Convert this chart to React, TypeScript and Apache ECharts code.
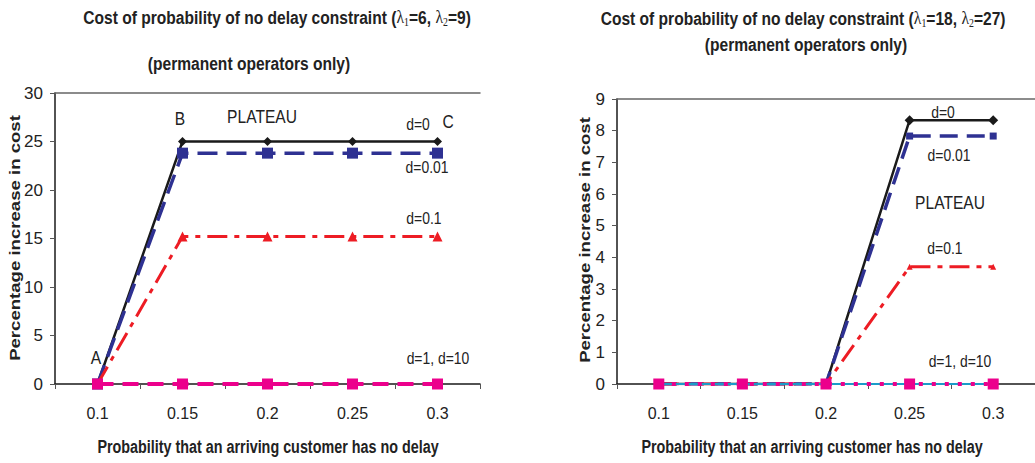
import React, { useEffect, useRef } from "react";
import * as echarts from "echarts";

const categories = ["0.1", "0.15", "0.2", "0.25", "0.3"];

// Left chart (λ1=6, λ2=9)
const leftD0 = [0, 25, 25, 25, 25];
const leftD001 = [0, 23.8, 23.8, 23.8, 23.8];
const leftD01 = [0, 15.2, 15.2, 15.2, 15.2];
const leftD1 = [0, 0, 0, 0, 0];

// Right chart (λ1=18, λ2=27)
const rightD0 = [0, 0, 0, 8.33, 8.33];
const rightD001 = [0, 0, 0, 7.83, 7.83];
const rightD01 = [0, 0, 0, 3.7, 3.7];
const rightD1 = [0, 0, 0, 0, 0];
const rightD10 = [0, 0, 0, 0, 0];

const SANS = "'Liberation Sans', Arial, sans-serif";
const SERIF = "'Liberation Serif', serif";
const NARROW_SCALE = 0.82;

const BLACK = "#1a1a1a";
const BLUE = "#2e3192";
const RED = "#ed1c24";
const MAGENTA = "#ec008c";
const CYAN = "#1b9cc9";

export default function App() {
  const ref = useRef<HTMLDivElement>(null);

  useEffect(() => {
    const chart = echarts.init(ref.current!, null, { renderer: "svg" });

    const xAxisBase = (gridIndex: number) => ({
      type: "category",
      gridIndex,
      data: categories,
      boundaryGap: true,
      axisLine: { show: true, lineStyle: { color: BLACK, width: 1.5 } },
      axisTick: { show: true, length: 5, inside: false, lineStyle: { color: "#555" } },
      axisLabel: { fontFamily: SANS, fontSize: 16, color: "#222", margin: 21 },
    });
    const xAxisTop = (gridIndex: number) => ({
      type: "category",
      gridIndex,
      position: "top",
      data: categories,
      axisLine: { show: true, lineStyle: { color: "#666", width: 1.5 } },
      axisTick: { show: false },
      axisLabel: { show: false },
    });
    const yAxisBase = (gridIndex: number, max: number, interval: number) => ({
      type: "value",
      gridIndex,
      min: 0,
      max,
      interval,
      axisLine: { show: true, lineStyle: { color: BLACK, width: 1.5 } },
      axisTick: { show: true, length: 5, lineStyle: { color: "#555" } },
      splitLine: { show: false },
      axisLabel: { fontFamily: SANS, fontSize: 17, color: "#222", margin: 12 },
    });

    const line = (
      name: string,
      data: number[],
      xi: number,
      yi: number,
      color: string,
      width: number,
      type: any,
      symbol: string,
      symbolSize: number,
      z: number
    ) => ({
      name,
      type: "line",
      xAxisIndex: xi,
      yAxisIndex: yi,
      data,
      symbol,
      symbolSize,
      showSymbol: symbol !== "none",
      z,
      lineStyle: { color, width, type },
      itemStyle: { color, borderWidth: 0 },
    });

    const txt = (x: number, y: number, text: string, size: number) => ({
      type: "text",
      x,
      y,
      scaleX: NARROW_SCALE,
      style: {
        text,
        fill: "#222",
        font: `${size}px ${SANS}`,
        textAlign: "center",
        textVerticalAlign: "middle",
      },
    });

    const titleRich = {
      l: { fontFamily: SERIF, fontSize: 19, fontWeight: "normal", fill: "#222" },
      s: { fontFamily: SERIF, fontSize: 12, fontWeight: "normal", fill: "#222", padding: [9, 0, 0, 0] },
    };

    const titleText = (x: number, y: number, text: string, size = 19) => ({
      type: "text",
      x,
      y,
      scaleX: NARROW_SCALE,
      style: {
        text,
        fill: "#222",
        font: `bold ${size}px ${SANS}`,
        textAlign: "center",
        textVerticalAlign: "middle",
        rich: titleRich,
      },
    });

    const yTitle = (x: number, y: number) => ({
      type: "text",
      x,
      y,
      rotation: Math.PI / 2,
      scaleX: 1.24,
      style: {
        text: "Percentage increase in cost",
        fill: "#222",
        font: `bold 15px ${SANS}`,
        textAlign: "center",
        textVerticalAlign: "middle",
      },
    });

    chart.setOption({
      animation: false,
      backgroundColor: "#ffffff",
      grid: [
        { left: 55, top: 93, width: 425, height: 291 },
        { left: 617, top: 99, width: 423, height: 285 },
      ],
      xAxis: [xAxisBase(0), xAxisBase(1), xAxisTop(0), xAxisTop(1)],
      yAxis: [yAxisBase(0, 30, 5), yAxisBase(1, 9, 1)],
      series: [
        line("d=0", leftD0, 0, 0, BLACK, 2.5, "solid", "diamond", 9, 2),
        line("d=0.01", leftD001, 0, 0, BLUE, 3.5, [20, 9], "rect", 11, 3),
        line("d=0.1", leftD01, 0, 0, RED, 3, [20, 7, 5, 7], "triangle", 10, 4),
        line("d=1, d=10", leftD1, 0, 0, MAGENTA, 4, [16, 9], "rect", 11, 5),
        line("d=0", rightD0, 1, 1, BLACK, 2.5, "solid", "diamond", 10, 2),
        line("d=0.01", rightD001, 1, 1, BLUE, 3.5, [18, 9], "rect", 7, 3),
        line("d=0.1", rightD01, 1, 1, RED, 3, [20, 7, 5, 7], "triangle", 6, 4),
        line("d=10", rightD10, 1, 1, CYAN, 2, "solid", "none", 0, 5),
        line("d=1", rightD1, 1, 1, MAGENTA, 4, [4, 9], "rect", 11, 6),
      ],
      graphic: [
        titleText(277, 17, "Cost of probability of no delay constraint ({l|λ}{s|1}=6, {l|λ}{s|2}=9)"),
        titleText(249, 63, "(permanent operators only)"),
        titleText(803, 18, "Cost of probability of no delay constraint ({l|λ}{s|1}=18, {l|λ}{s|2}=27)"),
        titleText(806, 44, "(permanent operators only)"),
        titleText(268, 447, "Probability that an arriving customer has no delay", 17.5),
        titleText(812, 447, "Probability that an arriving customer has no delay", 17.5),
        yTitle(15, 238),
        yTitle(585, 240),
        txt(96, 357, "A", 19),
        txt(180, 118, "B", 19),
        txt(262, 116, "PLATEAU", 19),
        txt(418, 124, "d=0", 17),
        txt(448, 121, "C", 19),
        txt(427, 167, "d=0.01", 17),
        txt(424, 218, "d=0.1", 17),
        txt(438, 358, "d=1, d=10", 17),
        txt(943, 112, "d=0", 17),
        txt(949, 155, "d=0.01", 17),
        txt(950, 202, "PLATEAU", 19),
        txt(945, 248, "d=0.1", 17),
        txt(960, 361, "d=1, d=10", 17),
      ],
    });

    return () => chart.dispose();
  }, []);

  return (
    <div
      ref={ref}
      style={{ position: "fixed", left: 0, top: 0, width: 1035, height: 463, background: "#fff" }}
    />
  );
}
